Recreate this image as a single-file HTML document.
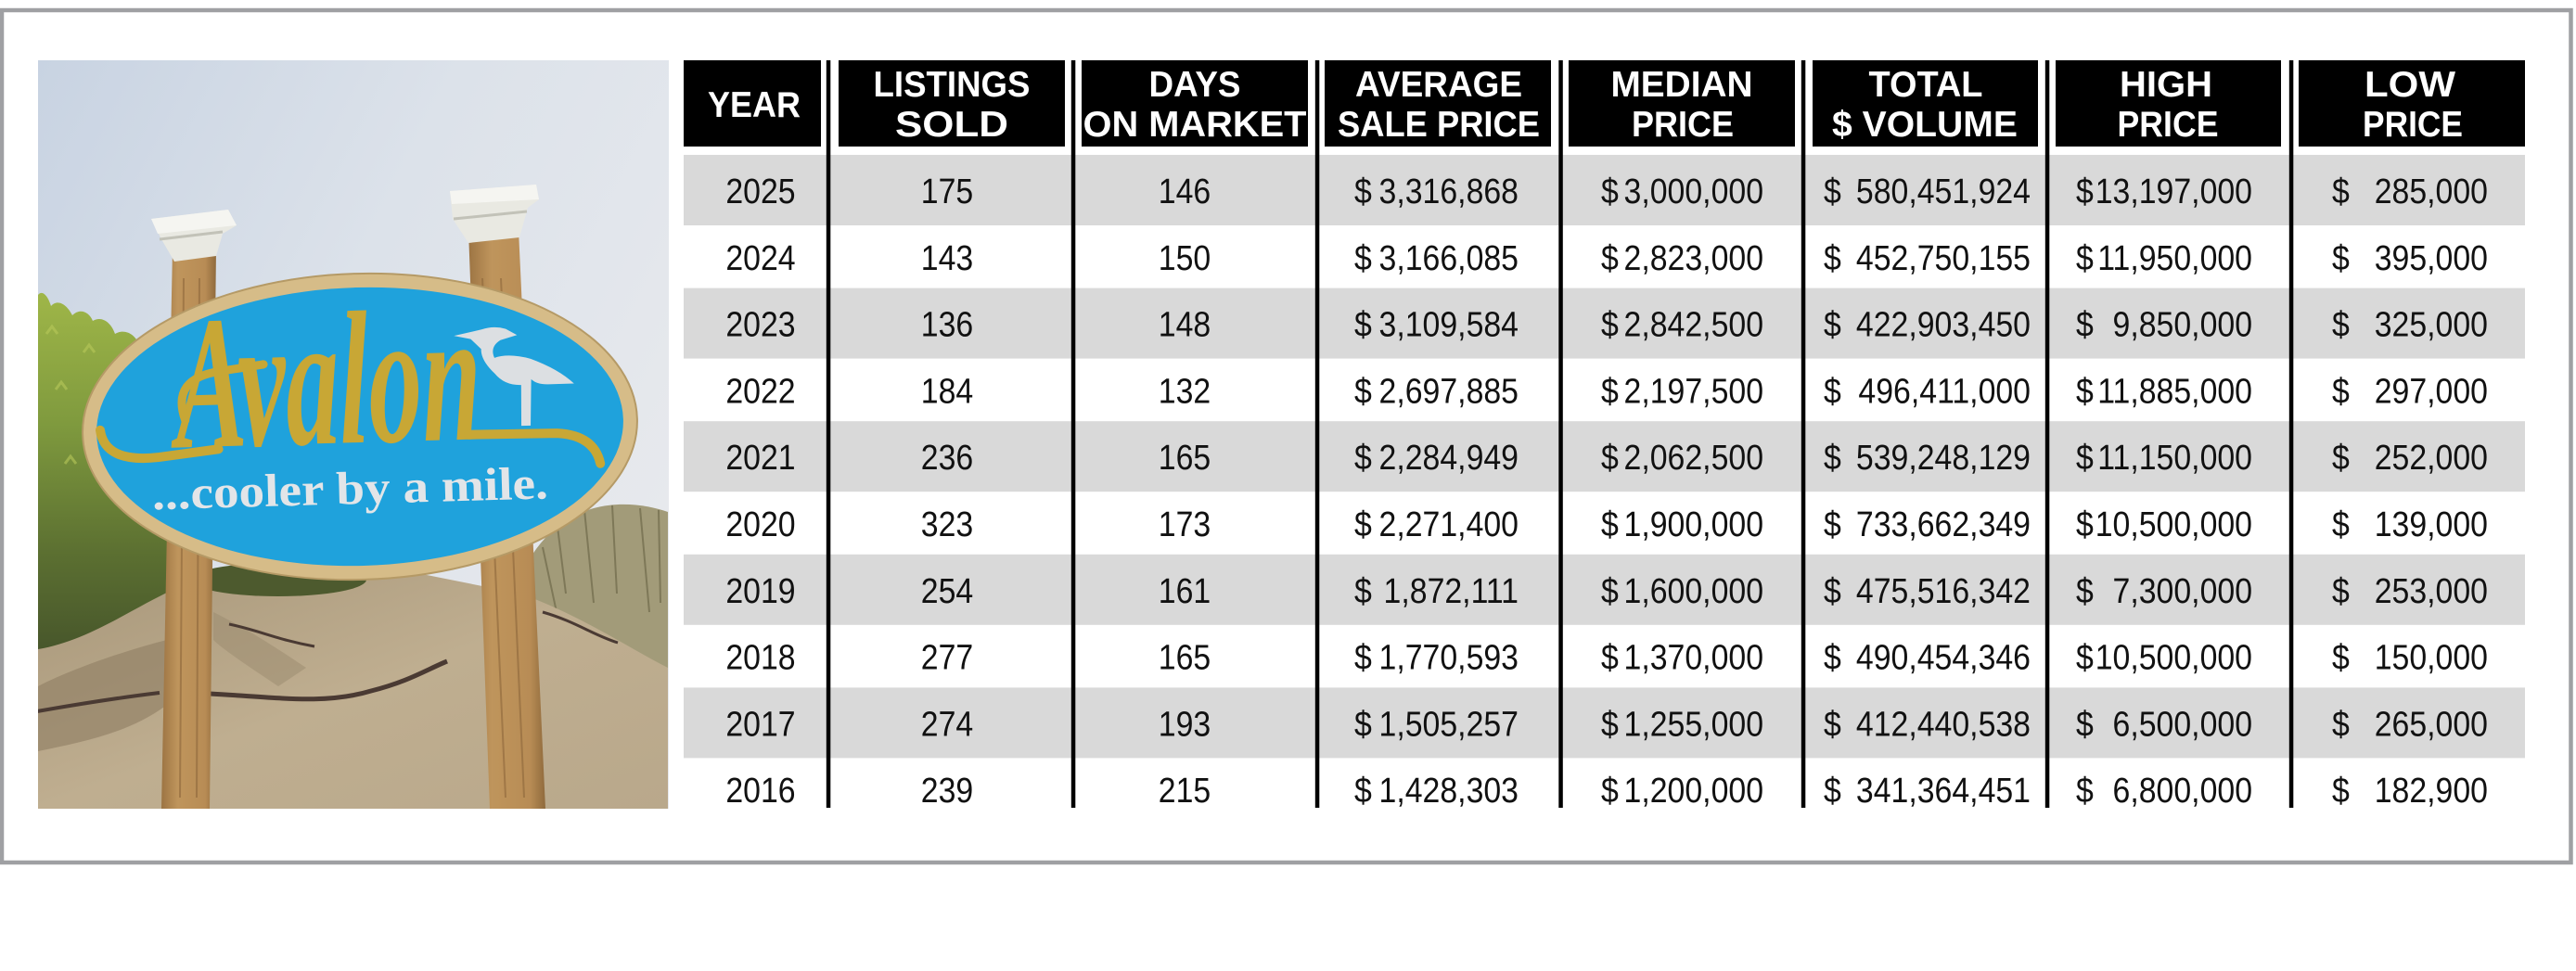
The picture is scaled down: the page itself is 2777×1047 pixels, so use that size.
<!DOCTYPE html>
<html><head><meta charset="utf-8"><style>
html,body{margin:0;padding:0;background:#fff;width:2777px;height:1047px;overflow:hidden}
svg{display:block}
.h{font-family:"Liberation Sans",Arial,sans-serif;font-weight:bold;font-size:39px;fill:#fff;text-anchor:middle}
.d text{font-family:"Liberation Sans",Arial,sans-serif;font-size:38px;fill:#111}
.m{text-anchor:middle}.e{text-anchor:end}
</style></head><body>
<svg width="2777" height="1047" viewBox="0 0 2777 1047" xmlns="http://www.w3.org/2000/svg">
<defs>
<linearGradient id="sky" x1="0" y1="0" x2="1" y2="0.6">
<stop offset="0" stop-color="#c8d3e2"/><stop offset="0.5" stop-color="#dce2ea"/><stop offset="1" stop-color="#e7e9ed"/>
</linearGradient>
<linearGradient id="wood" x1="0" y1="0" x2="1" y2="0">
<stop offset="0" stop-color="#9c7443"/><stop offset="0.3" stop-color="#bf955c"/><stop offset="0.8" stop-color="#b88c55"/><stop offset="1" stop-color="#8f6a3c"/>
</linearGradient>
<linearGradient id="bush" x1="0" y1="0" x2="0" y2="1">
<stop offset="0" stop-color="#9fb648"/><stop offset="0.35" stop-color="#7f9a3e"/><stop offset="0.7" stop-color="#5b6f31"/><stop offset="1" stop-color="#44522a"/>
</linearGradient>
<linearGradient id="sand" x1="0" y1="0" x2="1" y2="1">
<stop offset="0" stop-color="#a8977a"/><stop offset="0.5" stop-color="#bfae90"/><stop offset="1" stop-color="#b9a88b"/>
</linearGradient>
<clipPath id="pc"><rect x="41" y="65" width="680" height="807"/></clipPath>
</defs>
<rect width="2777" height="1047" fill="#fff"/>
<rect x="2" y="11" width="2769.5" height="919" fill="none" stroke="#9fa0a3" stroke-width="4.5"/>

<!-- PHOTO -->
<g clip-path="url(#pc)">
<rect x="41" y="65" width="680" height="807" fill="url(#sky)"/>
<!-- left bush -->
<path d="M41,318 C46,312 52,320 55,330 C62,322 72,328 78,340 C86,332 96,336 100,346 C110,340 120,348 124,360 C134,354 146,360 150,372 C162,370 174,384 178,400 L190,470 L205,600 C198,660 170,700 130,712 L41,720 Z" fill="url(#bush)"/>
<path d="M50,360 l6,-8 l6,8 M90,380 l6,-8 l6,8 M130,400 l6,-8 l6,8 M60,420 l6,-8 l6,8 M110,450 l6,-8 l6,8 M150,470 l6,-8 l6,8 M70,500 l6,-8 l6,8 M120,530 l6,-8 l6,8" stroke="#b8c85a" stroke-width="3" fill="none" opacity=".6"/>
<!-- right grass -->
<path d="M555,640 C570,590 600,560 640,548 C670,540 700,545 720,552 L720,740 L560,720 Z" fill="#a29b79"/>
<path d="M600,560 L610,640 M630,550 L640,650 M660,545 L665,640 M690,548 L700,660 M710,550 L712,650 M585,590 L600,660" stroke="#7e7858" stroke-width="2" fill="none"/>
<!-- sand -->
<path d="M41,700 C100,690 150,650 200,630 L330,622 L460,620 L560,640 C620,660 680,700 720,720 L720,872 L41,872 Z" fill="url(#sand)"/>
<path d="M41,740 C80,720 140,700 180,690 L180,760 C140,790 90,800 41,810 Z" fill="#8e7d62" opacity=".6"/>
<path d="M230,660 C270,680 300,700 330,720 L300,740 C270,720 240,700 230,690 Z" fill="#9a8a6d" opacity=".5"/>
<ellipse cx="300" cy="625" rx="95" ry="18" fill="#4d5a2e"/>
<path d="M40,767 C80,760 130,752 172,747" stroke="#4a3a33" stroke-width="4" fill="none"/>
<path d="M226,748 C300,752 350,760 400,745 C440,735 460,722 482,713" stroke="#4a3a33" stroke-width="5" fill="none"/>
<path d="M247,673 C280,680 300,690 339,697" stroke="#4a3a33" stroke-width="3" fill="none"/>
<path d="M585,660 C620,670 640,685 666,693" stroke="#4a3a33" stroke-width="3" fill="none"/>
<!-- posts -->
<polygon points="186,268 233,268 226,872 174,872" fill="url(#wood)"/>
<polygon points="505,248 559,248 588,872 528,872" fill="url(#wood)"/>
<path d="M198,300 L194,860 M215,300 L212,860 M520,300 L545,860 M540,300 L565,860" stroke="#8c663a" stroke-width="2" fill="none" opacity=".6"/>
<!-- caps -->
<path d="M163,236 L246,226 L255,243 L240,252 L233,276 L188,282 L174,258 Z" fill="#e9e9e2"/>
<path d="M163,236 L246,226 L255,243 L170,252 Z" fill="#f5f5f1"/>
<path d="M172,258 L240,250" stroke="#c2c2b8" stroke-width="3"/>
<path d="M485,206 L578,199 L581,215 L569,224 L560,256 L505,262 L488,236 Z" fill="#e9e9e2"/>
<path d="M485,206 L578,199 L581,215 L487,220 Z" fill="#f5f5f1"/>
<path d="M489,236 L568,228" stroke="#c2c2b8" stroke-width="3"/>
<!-- oval sign -->
<g transform="rotate(-1.6 388 460)">
<ellipse cx="388" cy="460" rx="299" ry="165" fill="#d6bc88" stroke="#b59a66" stroke-width="2"/>
<ellipse cx="388" cy="460" rx="284" ry="150" fill="#1fa2dc"/>
<g fill="#c8a735">
<text x="190" y="477" font-family="Liberation Serif,serif" font-style="italic" font-weight="bold" font-size="205" textLength="330" lengthAdjust="spacingAndGlyphs">Avalon</text>
</g>
<path d="M108,456 Q112,492 170,487 L235,480" stroke="#c8a735" stroke-width="10" fill="none" stroke-linecap="round"/>
<path d="M200,448 Q185,402 240,396 L286,390" stroke="#c8a735" stroke-width="9" fill="none" stroke-linecap="round"/>
<path d="M505,472 L600,473 Q640,476 646,507" stroke="#c8a735" stroke-width="10" fill="none" stroke-linecap="round"/>
<path d="M492,365 L522,359 Q535,355 548,359 L560,366 L542,371 Q530,378 535,390 Q550,385 574,392 Q604,404 620,420 L592,420 Q580,420 574,414 L572,464 L562,464 L563,420 Q545,420 535,407 Q520,392 521,380 L510,369 Z" fill="#dcdfe2"/>
<text x="162" y="543" font-family="Liberation Serif,serif" font-weight="bold" font-size="50" fill="#e2e5e8" textLength="427" lengthAdjust="spacingAndGlyphs">...cooler by a mile.</text>
</g>
</g>

<!-- TABLE -->
<g fill="#d9d9d9">
<rect x="737" y="167" width="1985" height="76"/>
<rect x="737" y="310.6" width="1985" height="76"/>
<rect x="737" y="454.2" width="1985" height="76"/>
<rect x="737" y="597.8" width="1985" height="76"/>
<rect x="737" y="741.4" width="1985" height="76"/>
</g>
<g fill="#000">
<rect x="737" y="65" width="148" height="93"/>
<rect x="904" y="65" width="244" height="93"/>
<rect x="1166" y="65" width="244" height="93"/>
<rect x="1428" y="65" width="244" height="93"/>
<rect x="1691" y="65" width="244" height="93"/>
<rect x="1954" y="65" width="243" height="93"/>
<rect x="2216" y="65" width="243" height="93"/>
<rect x="2478" y="65" width="244" height="93"/>
<rect x="890.8" y="65" width="4.5" height="806"/>
<rect x="1154.8" y="65" width="4.5" height="806"/>
<rect x="1417.8" y="65" width="4.5" height="806"/>
<rect x="1680.3" y="65" width="4.5" height="806"/>
<rect x="1941.8" y="65" width="4.5" height="806"/>
<rect x="2204.8" y="65" width="4.5" height="806"/>
<rect x="2467.8" y="65" width="4.5" height="806"/>
</g>
<g class="h">
<text x="813" y="126" textLength="100" lengthAdjust="spacingAndGlyphs">YEAR</text>
<text x="1026" y="104" textLength="169" lengthAdjust="spacingAndGlyphs">LISTINGS</text>
<text x="1026" y="147" textLength="122" lengthAdjust="spacingAndGlyphs">SOLD</text>
<text x="1288" y="104" textLength="99" lengthAdjust="spacingAndGlyphs">DAYS</text>
<text x="1288" y="147" textLength="241" lengthAdjust="spacingAndGlyphs">ON MARKET</text>
<text x="1551" y="104" textLength="180" lengthAdjust="spacingAndGlyphs">AVERAGE</text>
<text x="1551" y="147" textLength="218" lengthAdjust="spacingAndGlyphs">SALE PRICE</text>
<text x="1813" y="104" textLength="153" lengthAdjust="spacingAndGlyphs">MEDIAN</text>
<text x="1814" y="147" textLength="110" lengthAdjust="spacingAndGlyphs">PRICE</text>
<text x="2076" y="104" textLength="123" lengthAdjust="spacingAndGlyphs">TOTAL</text>
<text x="2075" y="147" textLength="200" lengthAdjust="spacingAndGlyphs">$ VOLUME</text>
<text x="2335" y="104" textLength="100" lengthAdjust="spacingAndGlyphs">HIGH</text>
<text x="2337" y="147" textLength="109" lengthAdjust="spacingAndGlyphs">PRICE</text>
<text x="2598" y="104" textLength="98" lengthAdjust="spacingAndGlyphs">LOW</text>
<text x="2601" y="147" textLength="108" lengthAdjust="spacingAndGlyphs">PRICE</text>
</g>

<g class="d" transform="scale(0.89,1)">
<g transform="translate(0,219)">
<text x="921.35" class="m">2025</text><text x="1147.19" class="m">175</text><text x="1434.83" class="m">146</text>
<text x="1640.45">$</text><text x="1839.33" class="e">3,316,868</text>
<text x="1939.33">$</text><text x="2135.96" class="e">3,000,000</text>
<text x="2208.99">$</text><text x="2459.55" class="e">580,451,924</text>
<text x="2514.61">$</text><text x="2728.09" class="e">13,197,000</text>
<text x="2824.72">$</text><text x="3013.48" class="e">285,000</text>
</g>
<g transform="translate(0,290.8)">
<text x="921.35" class="m">2024</text><text x="1147.19" class="m">143</text><text x="1434.83" class="m">150</text>
<text x="1640.45">$</text><text x="1839.33" class="e">3,166,085</text>
<text x="1939.33">$</text><text x="2135.96" class="e">2,823,000</text>
<text x="2208.99">$</text><text x="2459.55" class="e">452,750,155</text>
<text x="2514.61">$</text><text x="2728.09" class="e">11,950,000</text>
<text x="2824.72">$</text><text x="3013.48" class="e">395,000</text>
</g>
<g transform="translate(0,362.6)">
<text x="921.35" class="m">2023</text><text x="1147.19" class="m">136</text><text x="1434.83" class="m">148</text>
<text x="1640.45">$</text><text x="1839.33" class="e">3,109,584</text>
<text x="1939.33">$</text><text x="2135.96" class="e">2,842,500</text>
<text x="2208.99">$</text><text x="2459.55" class="e">422,903,450</text>
<text x="2514.61">$</text><text x="2728.09" class="e">9,850,000</text>
<text x="2824.72">$</text><text x="3013.48" class="e">325,000</text>
</g>
<g transform="translate(0,434.4)">
<text x="921.35" class="m">2022</text><text x="1147.19" class="m">184</text><text x="1434.83" class="m">132</text>
<text x="1640.45">$</text><text x="1839.33" class="e">2,697,885</text>
<text x="1939.33">$</text><text x="2135.96" class="e">2,197,500</text>
<text x="2208.99">$</text><text x="2459.55" class="e">496,411,000</text>
<text x="2514.61">$</text><text x="2728.09" class="e">11,885,000</text>
<text x="2824.72">$</text><text x="3013.48" class="e">297,000</text>
</g>
<g transform="translate(0,506.2)">
<text x="921.35" class="m">2021</text><text x="1147.19" class="m">236</text><text x="1434.83" class="m">165</text>
<text x="1640.45">$</text><text x="1839.33" class="e">2,284,949</text>
<text x="1939.33">$</text><text x="2135.96" class="e">2,062,500</text>
<text x="2208.99">$</text><text x="2459.55" class="e">539,248,129</text>
<text x="2514.61">$</text><text x="2728.09" class="e">11,150,000</text>
<text x="2824.72">$</text><text x="3013.48" class="e">252,000</text>
</g>
<g transform="translate(0,578)">
<text x="921.35" class="m">2020</text><text x="1147.19" class="m">323</text><text x="1434.83" class="m">173</text>
<text x="1640.45">$</text><text x="1839.33" class="e">2,271,400</text>
<text x="1939.33">$</text><text x="2135.96" class="e">1,900,000</text>
<text x="2208.99">$</text><text x="2459.55" class="e">733,662,349</text>
<text x="2514.61">$</text><text x="2728.09" class="e">10,500,000</text>
<text x="2824.72">$</text><text x="3013.48" class="e">139,000</text>
</g>
<g transform="translate(0,649.8)">
<text x="921.35" class="m">2019</text><text x="1147.19" class="m">254</text><text x="1434.83" class="m">161</text>
<text x="1640.45">$</text><text x="1839.33" class="e">1,872,111</text>
<text x="1939.33">$</text><text x="2135.96" class="e">1,600,000</text>
<text x="2208.99">$</text><text x="2459.55" class="e">475,516,342</text>
<text x="2514.61">$</text><text x="2728.09" class="e">7,300,000</text>
<text x="2824.72">$</text><text x="3013.48" class="e">253,000</text>
</g>
<g transform="translate(0,721.6)">
<text x="921.35" class="m">2018</text><text x="1147.19" class="m">277</text><text x="1434.83" class="m">165</text>
<text x="1640.45">$</text><text x="1839.33" class="e">1,770,593</text>
<text x="1939.33">$</text><text x="2135.96" class="e">1,370,000</text>
<text x="2208.99">$</text><text x="2459.55" class="e">490,454,346</text>
<text x="2514.61">$</text><text x="2728.09" class="e">10,500,000</text>
<text x="2824.72">$</text><text x="3013.48" class="e">150,000</text>
</g>
<g transform="translate(0,793.4)">
<text x="921.35" class="m">2017</text><text x="1147.19" class="m">274</text><text x="1434.83" class="m">193</text>
<text x="1640.45">$</text><text x="1839.33" class="e">1,505,257</text>
<text x="1939.33">$</text><text x="2135.96" class="e">1,255,000</text>
<text x="2208.99">$</text><text x="2459.55" class="e">412,440,538</text>
<text x="2514.61">$</text><text x="2728.09" class="e">6,500,000</text>
<text x="2824.72">$</text><text x="3013.48" class="e">265,000</text>
</g>
<g transform="translate(0,865.2)">
<text x="921.35" class="m">2016</text><text x="1147.19" class="m">239</text><text x="1434.83" class="m">215</text>
<text x="1640.45">$</text><text x="1839.33" class="e">1,428,303</text>
<text x="1939.33">$</text><text x="2135.96" class="e">1,200,000</text>
<text x="2208.99">$</text><text x="2459.55" class="e">341,364,451</text>
<text x="2514.61">$</text><text x="2728.09" class="e">6,800,000</text>
<text x="2824.72">$</text><text x="3013.48" class="e">182,900</text>
</g>
</g>
</svg>
</body></html>
